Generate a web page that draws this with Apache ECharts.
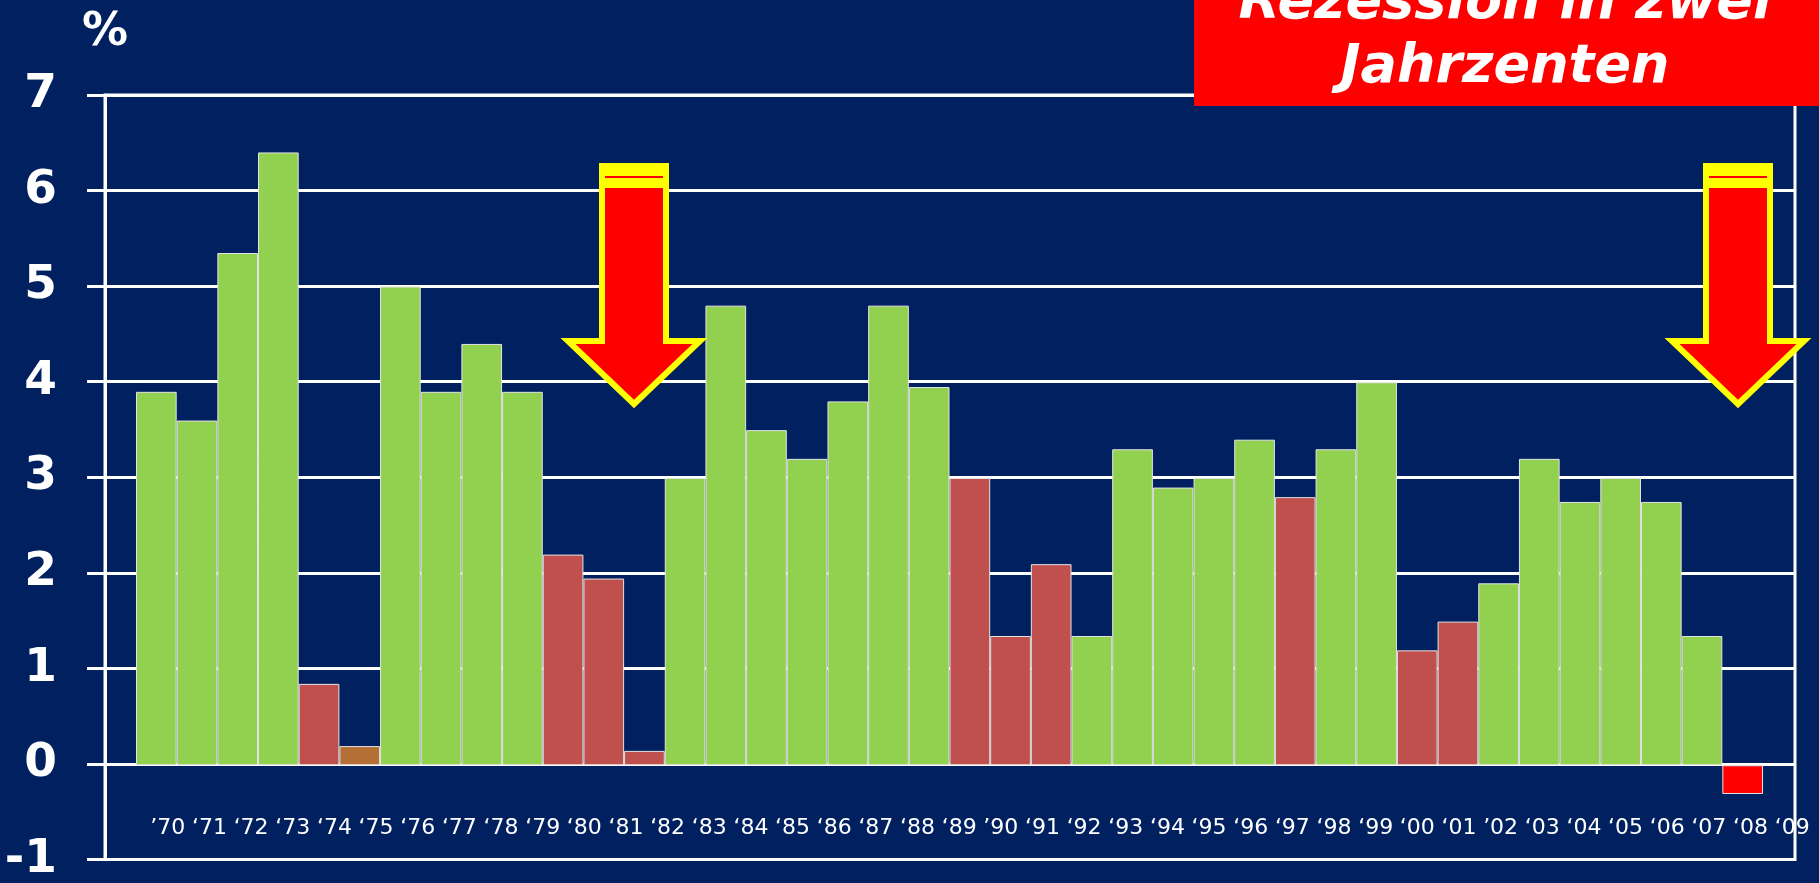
<!DOCTYPE html>
<html>
<head>
<meta charset="utf-8">
<script src="https://cdn.jsdelivr.net/npm/echarts@6/dist/echarts.min.js"></script>
<style>
html,body{margin:0;padding:0;background:#002060;}
#chart{width:1819px;height:883px;}
</style>
</head>
<body>
<div id="chart"></div>
<script>
// ---- data ----
const years = ['’70','‘71','‘72','‘73','‘74','‘75','‘76','‘77','‘78','‘79',
               '‘80','‘81','‘82','‘83','‘84','‘85','‘86','‘87','‘88','‘89',
               '’90','‘91','‘92','‘93','‘94','‘95','‘96','‘97','‘98','‘99',
               '‘00','‘01','’02','‘03','‘04','‘05','‘06','‘07','‘08','‘09'];
const growth = [3.9,3.6,5.35,6.4,0.85,0.2,5.0,3.9,4.4,3.9,
                2.2,1.95,0.15,3.0,4.8,3.5,3.2,3.8,4.8,3.95,
                3.0,1.35,2.1,1.35,3.3,2.9,3.0,3.4,2.8,3.3,
                4.0,1.2,1.5,1.9,3.2,2.75,3.0,2.75,1.35,-0.3];
// g = growth, w = weak, o = oil-shock, r = recession
const phase = ['g','g','g','g','w','o','g','g','g','g',
               'w','w','w','g','g','g','g','g','g','g',
               'w','w','w','g','g','g','g','g','w','g',
               'g','w','w','g','g','g','g','g','g','r'];
const yTicks = {min:-1, max:7, interval:1};
const title = 'Rezession in zwei\nJahrzenten';
const unit = '%';

// ---- styles ----
const phaseColor = {g:'#92D050', w:'#C0504D', o:'#B46F35', r:'#FF0000'};
const font = '"DejaVu Sans", Verdana, sans-serif';

const chart = echarts.init(document.getElementById('chart'));

function arrow(dx){
  return [
    {type:'polygon', z:100, shape:{points:[[602+dx,166],[666+dx,166],[666+dx,341],[700+dx,341],[634+dx,404],[568+dx,341],[602+dx,341]]},
     style:{fill:'#FF0000', stroke:'#FFFF00', lineWidth:6, lineJoin:'miter'}},
    {type:'rect', z:101, shape:{x:599+dx, y:163, width:70, height:25}, style:{fill:'#FFFF00'}},
    {type:'line', z:102, shape:{x1:605+dx, y1:177, x2:663+dx, y2:177}, style:{stroke:'#FF0000', lineWidth:2}}
  ];
}

const option = {
  backgroundColor:'#002060',
  animation:false,
  grid:[
    {left:105, right:24, top:95, bottom:22, show:true, borderColor:'#FFFFFF', borderWidth:3, backgroundColor:'transparent'},
    {left:136, right:56, top:95, bottom:22},
    {left:147, right:6, top:95, bottom:74}
  ],
  xAxis:[
    {type:'value', gridIndex:0, min:0, max:1, show:false},
    {type:'category', gridIndex:1, data:years, show:false},
    {type:'category', gridIndex:2, data:years,
     axisLine:{show:false}, axisTick:{show:false}, splitLine:{show:false},
     axisLabel:{interval:0, margin:8, color:'#FFFFFF', fontSize:22, fontFamily:font}}
  ],
  yAxis:[
    {type:'value', gridIndex:0, min:yTicks.min, max:yTicks.max, interval:yTicks.interval,
     name:unit, nameLocation:'end', nameGap:39,
     nameTextStyle:{color:'#FFFFFF', fontSize:46, fontWeight:'bold', fontFamily:font, align:'center'},
     axisLine:{show:true, lineStyle:{color:'#FFFFFF', width:3}},
     axisTick:{show:true, inside:false, length:18, lineStyle:{color:'#FFFFFF', width:3}},
     axisLabel:{margin:48, color:'#FFFFFF', fontSize:47, fontWeight:'bold', fontFamily:font},
     splitLine:{show:true, lineStyle:{color:'#FFFFFF', width:3}}},
    {type:'value', gridIndex:1, min:yTicks.min, max:yTicks.max, interval:yTicks.interval, show:false},
    {type:'value', gridIndex:2, min:0, max:1, show:false}
  ],
  series:[{
    type:'bar', xAxisIndex:1, yAxisIndex:1,
    barCategoryGap:'0%',
    data:growth.map((v,i)=>({value:v, itemStyle:{color:phaseColor[phase[i]]}})),
    itemStyle:{borderColor:'#E4E4E4', borderWidth:1}
  }],
  graphic:[
    {type:'rect', z:90, shape:{x:1194, y:-10, width:640, height:116}, style:{fill:'#FF0000'}},
    {type:'text', z:91, x:1505, y:36,
     style:{text:title, fill:'#FFFFFF', fontSize:54, fontWeight:'bold', fontStyle:'italic', fontFamily:font,
            align:'center', verticalAlign:'middle', lineHeight:64}}
  ].concat(arrow(0), arrow(1104))
};
chart.setOption(option);
</script>
</body>
</html>
